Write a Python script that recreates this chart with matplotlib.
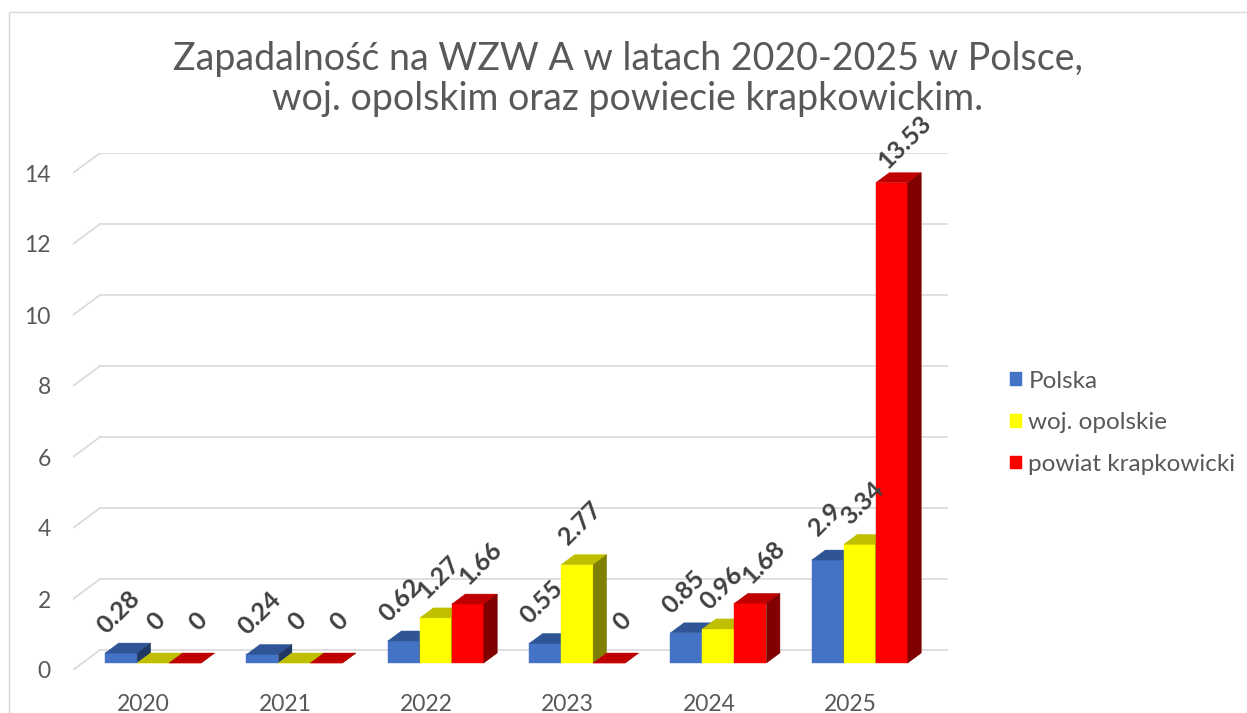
import matplotlib.pyplot as plt
import matplotlib.patches as patches

# data
years = ['2020', '2021', '2022', '2023', '2024', '2025']
polska = [0.28, 0.24, 0.62, 0.55, 0.85, 2.9]
opolskie = [0, 0, 1.27, 2.77, 0.96, 3.34]
krapkowicki = [0, 0, 1.66, 0, 1.68, 13.53]
series_names = ['Polska', 'woj. opolskie', 'powiat krapkowicki']
series_values = [polska, opolskie, krapkowicki]
yticks = [0, 2, 4, 6, 8, 10, 12, 14]

# colours: front, top, side
front_colors = ['#4472C4', '#FFFF00', '#FF0000']
top_colors = ['#2F5597', '#BFBF00', '#C00000']
side_colors = ['#203864', '#808000', '#800000']

W, H = 1247, 713
fig = plt.figure(figsize=(W / 100, H / 100), dpi=100)
plt.rcParams['font.family'] = ['Lato', 'DejaVu Sans']

# front plane of the 3d box in pixels
left_px, right_px, bottom_px, top_px = 73, 948, 670, 153
ax = fig.add_axes([left_px / W, 1 - bottom_px / H,
                   (right_px - left_px) / W, (bottom_px - top_px) / H])
ax.patch.set_alpha(0)

n = len(years)
cat_px = 141.33          # pixels per category
unit_px = 35.5           # pixels per value unit
ddx, ddy = 27 / cat_px, 20 / unit_px      # depth of the box
bar_w = 32 / cat_px
shift_x, shift_y = 0.35 * ddx, 0.35 * ddy  # bars sit inside the box
bdx, bdy = 0.5 * ddx, 0.5 * ddy            # bar depth

ax.set_xlim(-0.5, n - 0.5 + ddx)
ax.set_ylim(0, yticks[-1] + ddy)

# back wall gridlines + side diagonals
for v in yticks:
    ax.plot([-0.5, -0.5 + ddx], [v, v + ddy], color='#D9D9D9', lw=1.2, zorder=0)
    ax.plot([-0.5 + ddx, n - 0.5 + ddx], [v + ddy, v + ddy], color='#D9D9D9', lw=1.2, zorder=0)

label_dx_px = [-3, 3, 13]
for i in range(n):
    for j, vals in enumerate(series_values):
        v = vals[i]
        xc = i + (j - 1) * bar_w + shift_x
        x0, x1 = xc - bar_w / 2, xc + bar_w / 2
        y0, y1 = shift_y, shift_y + v
        z = 2 + i * 3 + j
        ax.bar(xc, v, width=bar_w, bottom=shift_y, color=front_colors[j],
               edgecolor=front_colors[j], lw=0.3, zorder=z,
               label=series_names[j] if i == 0 else None)
        top = patches.Polygon([(x0, y1), (x1, y1), (x1 + bdx, y1 + bdy), (x0 + bdx, y1 + bdy)],
                              closed=True, facecolor=top_colors[j], edgecolor=top_colors[j],
                              lw=0.3, zorder=z)
        side = patches.Polygon([(x1, y0), (x1 + bdx, y0 + bdy), (x1 + bdx, y1 + bdy), (x1, y1)],
                               closed=True, facecolor=side_colors[j], edgecolor=side_colors[j],
                               lw=0.3, zorder=z)
        ax.add_patch(top)
        ax.add_patch(side)
        ax.text(xc + label_dx_px[j] / cat_px, y1 + bdy + 31 / unit_px, f'{v:g}',
                rotation=45, ha='center', va='center', fontsize=18, fontweight='bold',
                color='#404040', zorder=50, clip_on=False)

ax.set_yticks(yticks)
ax.set_yticklabels([str(t) for t in yticks])
ax.set_xticks(range(n))
ax.set_xticklabels(years)
ax.tick_params(axis='y', length=0, pad=16, labelsize=16.5, labelcolor='#595959')
ax.tick_params(axis='x', length=0, pad=17, labelsize=16.5, labelcolor='#595959')
for s in ax.spines.values():
    s.set_visible(False)

fig.text(628 / W, 1 - 79 / H,
         'Zapadalność na WZW A w latach 2020-2025 w Polsce,\nwoj. opolskim oraz powiecie krapkowickim.',
         ha='center', va='center', fontsize=27, color='#595959', linespacing=1.15)

handles, labels = ax.get_legend_handles_labels()
fig.legend(handles, labels, loc='center left', bbox_to_anchor=(998 / W, 1 - 423 / H),
           frameon=False, fontsize=17.5, labelcolor='#595959', handlelength=0.5,
           handleheight=0.5, handletextpad=0.25, labelspacing=0.85, borderpad=0)

# chart border
fig.patches.append(patches.Rectangle((9 / W, -0.1), 1.2, (H - 12) / H + 0.1,
                                     transform=fig.transFigure, fill=False,
                                     edgecolor='#D9D9D9', lw=1))

fig.savefig('out.png', dpi=100)
